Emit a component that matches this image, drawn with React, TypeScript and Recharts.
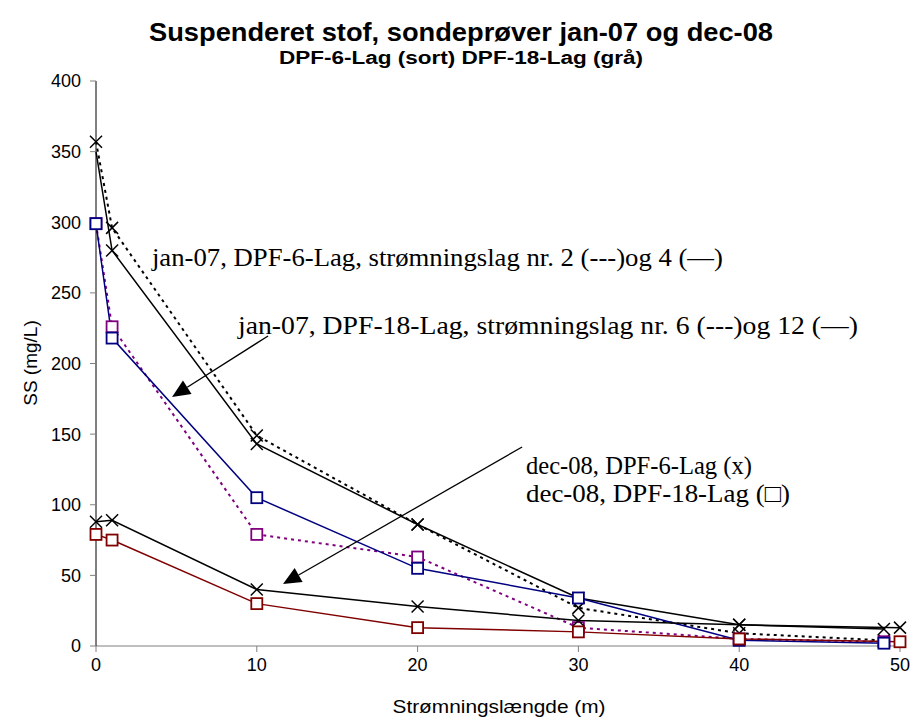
import { LineChart, Line, XAxis, YAxis, ReferenceLine, ReferenceDot } from 'recharts'

// Strømningslængde (m) for the two sampling rounds
const xJan07 = [0, 1, 10, 20, 30, 40, 49]
const xDec08 = [0, 1, 10, 20, 30, 40, 50]

// SS (mg/L)
const jan07Lag6Nr2 = [357, 296, 149, 86, 27, 9, 4]
const jan07Lag6Nr4 = [350, 280, 143, 86, 34, 15, 12]
const jan07Lag18Nr6 = [299, 226, 79, 63, 13, 5, 3]
const jan07Lag18Nr12 = [299, 218, 105, 55, 34, 4, 2]
const dec08Lag6 = [88, 89, 40, 28, 18, 15, 13]
const dec08Lag18 = [79, 75, 30, 13, 10, 5, 3]

const xTicks = [0, 10, 20, 30, 40, 50]
const yTicks = [0, 50, 100, 150, 200, 250, 300, 350, 400]

const W = 911
const H = 722
const SANS = "'Liberation Sans', Arial, sans-serif"
const SERIF = "'Liberation Serif', 'Times New Roman', serif"

function rows(xs: number[], ys: number[]) {
  return xs.map((x, i) => ({ x, y: ys[i] }))
}

// ─── Markers ──────────────────────────────────────────────────────────────────

function crossDot(name: string, skipFirst = false) {
  return (p: any) => {
    if (skipFirst && p.index === 0) return <g key={`${name}-${p.index}`} />
    return (
      <g key={`${name}-${p.index}`}>
        <line x1={p.cx - 6} y1={p.cy - 6} x2={p.cx + 6} y2={p.cy + 6} stroke="#000" strokeWidth={1.5} />
        <line x1={p.cx - 6} y1={p.cy + 6} x2={p.cx + 6} y2={p.cy - 6} stroke="#000" strokeWidth={1.5} />
      </g>
    )
  }
}

function squareDot(name: string, colour: string) {
  return (p: any) => (
    <rect key={`${name}-${p.index}`} x={p.cx - 5.5} y={p.cy - 5.5} width={11} height={11}
      fill="#fff" stroke={colour} strokeWidth={1.8} />
  )
}

// ─── Annotations ──────────────────────────────────────────────────────────────

function note(text: string, len: number) {
  return (p: any) => (
    <text x={p.cx} y={p.cy} fontFamily={SERIF} fontSize={25} fill="#000"
      textLength={len} lengthAdjust="spacingAndGlyphs">{text}</text>
  )
}

function Arrow(p: any) {
  const { x1, y1, x2, y2 } = p
  const dx = x2 - x1
  const dy = y2 - y1
  const len = Math.hypot(dx, dy)
  const ux = dx / len
  const uy = dy / len
  const hl = 18
  const hw = 8
  const bx = x2 - ux * hl
  const by = y2 - uy * hl
  return (
    <g>
      <line x1={x1} y1={y1} x2={bx} y2={by} stroke="#000" strokeWidth={1.3} />
      <polygon points={`${x2},${y2} ${bx - uy * hw},${by + ux * hw} ${bx + uy * hw},${by - ux * hw}`} fill="#000" />
    </g>
  )
}

export default function App() {
  return (
    <div style={{ position: 'relative', width: W, height: H, background: '#fff' }}>
      <style>{'body{margin:0}'}</style>
      <LineChart width={W} height={H} margin={{ top: 81, right: 11, bottom: 0, left: 0 }}>
        <XAxis type="number" dataKey="x" domain={[0, 50]} ticks={xTicks} allowDuplicatedCategory={false}
          height={76} tickSize={6} tickMargin={6}
          axisLine={{ stroke: '#808080' }} tickLine={{ stroke: '#808080' }}
          tick={{ fill: '#000', fontSize: 18, fontFamily: SANS }} />
        <YAxis type="number" domain={[0, 400]} ticks={yTicks} width={96} tickSize={6} tickMargin={9}
          axisLine={{ stroke: '#000' }} tickLine={{ stroke: '#808080' }}
          tick={{ fill: '#000', fontSize: 18, fontFamily: SANS }} />

        <Line data={rows(xJan07, jan07Lag6Nr2)} dataKey="y" stroke="#000" strokeWidth={2}
          strokeDasharray="3 4" dot={crossDot('l2')} isAnimationActive={false} />
        <Line data={rows(xJan07, jan07Lag6Nr4)} dataKey="y" stroke="#000" strokeWidth={1.5}
          dot={crossDot('l4', true)} isAnimationActive={false} />
        <Line data={rows(xJan07, jan07Lag18Nr6)} dataKey="y" stroke="#800080" strokeWidth={2}
          strokeDasharray="3 4" dot={squareDot('l6', '#800080')} isAnimationActive={false} />
        <Line data={rows(xJan07, jan07Lag18Nr12)} dataKey="y" stroke="#000080" strokeWidth={1.5}
          dot={squareDot('l12', '#000080')} isAnimationActive={false} />
        <Line data={rows(xDec08, dec08Lag6)} dataKey="y" stroke="#000" strokeWidth={1.5}
          dot={crossDot('d6')} isAnimationActive={false} />
        <Line data={rows(xDec08, dec08Lag18)} dataKey="y" stroke="#800000" strokeWidth={1.5}
          dot={squareDot('d18', '#800000')} isAnimationActive={false} />

        <ReferenceLine segment={[{ x: 10.7, y: 219.5 }, { x: 4.73, y: 176.3 }]} shape={Arrow} />
        <ReferenceLine segment={[{ x: 26.5, y: 140.9 }, { x: 11.63, y: 43.9 }]} shape={Arrow} />

        <ReferenceDot x={3.48} y={269} r={0} shape={note('jan-07, DPF-6-Lag, strømningslag nr. 2 (---)og 4 (—)', 571)} />
        <ReferenceDot x={8.83} y={220.9} r={0} shape={note('jan-07, DPF-18-Lag, strømningslag nr. 6 (---)og 12 (—)', 620)} />
        <ReferenceDot x={26.74} y={121.8} r={0} shape={note('dec-08, DPF-6-Lag (x)', 226)} />
        <ReferenceDot x={26.74} y={101.9} r={0} shape={note('dec-08, DPF-18-Lag (□)', 264)} />
      </LineChart>

      <svg width={W} height={H} style={{ position: 'absolute', left: 0, top: 0, pointerEvents: 'none' }}>
        <text x={461} y={41} textAnchor="middle" fontFamily={SANS} fontWeight="bold" fontSize={25}
          textLength={624} lengthAdjust="spacingAndGlyphs">
          Suspenderet stof, sondeprøver jan-07 og dec-08
        </text>
        <text x={461} y={64} textAnchor="middle" fontFamily={SANS} fontWeight="bold" fontSize={18}
          textLength={364} lengthAdjust="spacingAndGlyphs">
          DPF-6-Lag (sort) DPF-18-Lag (grå)
        </text>
        <text x={499} y={713} textAnchor="middle" fontFamily={SANS} fontSize={19}
          textLength={213} lengthAdjust="spacingAndGlyphs">
          Strømningslængde (m)
        </text>
        <text x={0} y={0} textAnchor="middle" fontFamily={SANS} fontSize={19}
          transform="translate(37 363) rotate(-90)">
          SS (mg/L)
        </text>
      </svg>
    </div>
  )
}
